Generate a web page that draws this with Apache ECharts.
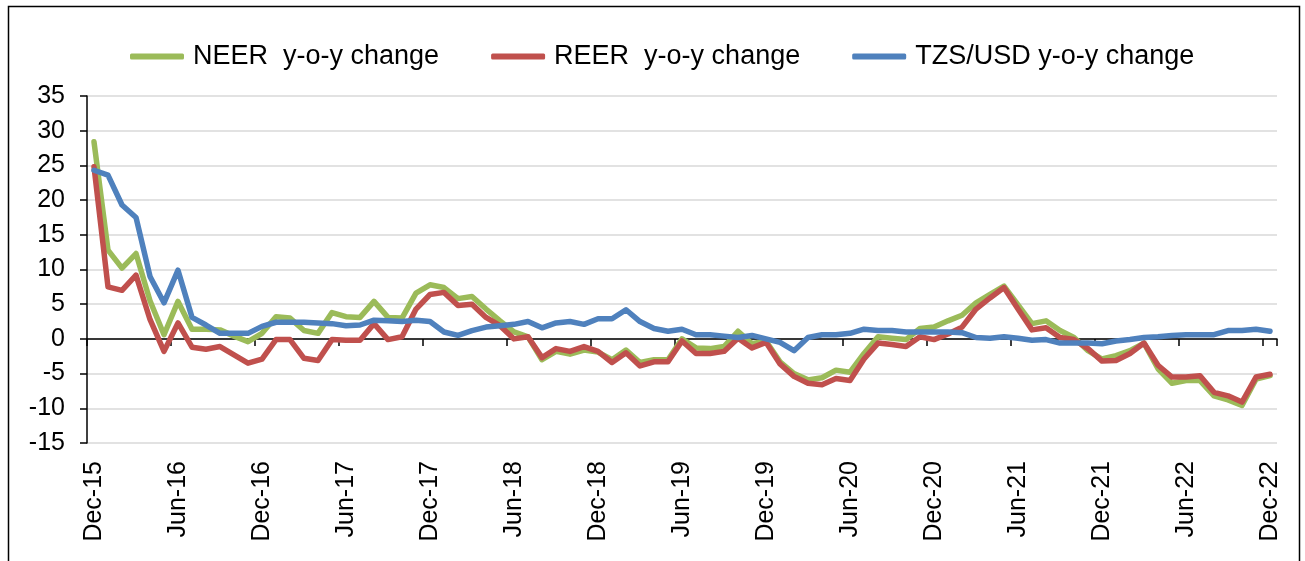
<!DOCTYPE html>
<html>
<head>
<meta charset="utf-8">
<script src="https://cdn.jsdelivr.net/npm/echarts@6/dist/echarts.min.js"></script>
<style>
  html, body { margin: 0; padding: 0; background: #fff; }
  #chart { width: 1305px; height: 561px; }
</style>
</head>
<body>
<div id="chart"></div>
<script>
// 月份标签 Dec-15 ... Dec-22
const monthNames = ["Jan", "Feb", "Mar", "Apr", "May", "Jun", "Jul", "Aug", "Sep", "Oct", "Nov", "Dec"];
const months = ["Dec-15"];
for (let y = 16; y <= 22; y++) {
  monthNames.forEach((m) => months.push(m + "-" + y));
}

const yTicks = { min: -15, max: 35, step: 5 };

const neer = [
  28.4, 12.8, 10.2, 12.3, 5.5, 0.6, 5.4, 1.4, 1.4, 1.3, 0.4, -0.4,
  0.8, 3.2, 3.0, 1.2, 0.8, 3.8, 3.2, 3.1, 5.4, 3.1, 3.0, 6.6,
  7.8, 7.4, 5.8, 6.1, 4.3, 2.6, 1.0, 0.3, -3.0, -1.8, -2.2, -1.6,
  -1.9, -3.0, -1.6, -3.4, -3.0, -3.0, 0.0, -1.3, -1.4, -1.1, 1.1, -0.7,
  -0.3, -3.3, -5.0, -5.9, -5.6, -4.5, -4.8, -2.1, 0.3, 0.1, -0.1, 1.5,
  1.7, 2.6, 3.4, 5.2, 6.4, 7.6, 4.9, 2.2, 2.6, 1.2, 0.2, -1.7,
  -2.9, -2.4, -1.7, -0.6, -4.3, -6.4, -6.0, -6.0, -8.2, -8.8, -9.6, -5.8,
  -5.3,
];
const reer = [
  24.8, 7.5, 7.0, 9.2, 2.8, -1.8, 2.3, -1.2, -1.5, -1.1, -2.3, -3.5,
  -2.9, -0.1, -0.1, -2.8, -3.1, -0.1, -0.2, -0.2, 2.2, -0.1, 0.3, 4.3,
  6.4, 6.7, 4.8, 5.0, 3.1, 1.9, 0.0, 0.3, -2.7, -1.4, -1.8, -1.1,
  -1.8, -3.4, -2.0, -3.9, -3.3, -3.3, -0.3, -2.1, -2.1, -1.8, 0.1, -1.3,
  -0.5, -3.6, -5.4, -6.4, -6.6, -5.7, -6.0, -2.9, -0.6, -0.8, -1.1, 0.3,
  -0.1, 0.7, 1.7, 4.3, 5.9, 7.4, 4.3, 1.3, 1.6, 0.2, -0.1, -1.4,
  -3.2, -3.1, -2.1, -0.6, -3.8, -5.5, -5.5, -5.3, -7.7, -8.2, -9.1, -5.5,
  -5.1,
];
const tzsUsd = [
  24.3, 23.6, 19.3, 17.5, 9.0, 5.2, 9.9, 3.1, 2.0, 0.8, 0.8, 0.8,
  1.8, 2.4, 2.4, 2.4, 2.3, 2.2, 1.9, 2.0, 2.7, 2.6, 2.5, 2.7,
  2.5, 1.0, 0.5, 1.2, 1.7, 1.9, 2.1, 2.5, 1.6, 2.3, 2.5, 2.1,
  2.9, 2.9, 4.2, 2.5, 1.5, 1.1, 1.4, 0.6, 0.6, 0.4, 0.2, 0.5,
  0.0, -0.5, -1.7, 0.2, 0.6, 0.6, 0.8, 1.4, 1.2, 1.2, 1.0, 1.0,
  1.0, 1.0, 0.9, 0.2, 0.1, 0.3, 0.1, -0.2, -0.1, -0.6, -0.6, -0.6,
  -0.7, -0.3, -0.1, 0.2, 0.3, 0.5, 0.6, 0.6, 0.6, 1.2, 1.2, 1.4,
  1.1,
];

const seriesNames = ["NEER  y-o-y change", "REER  y-o-y change", "TZS/USD y-o-y change"];
const seriesColors = ["#9bbb59", "#c0504d", "#4f81bd"];
const seriesData = [neer, reer, tzsUsd];

const font = "Liberation Sans, Arial, sans-serif";

const myChart = echarts.init(document.querySelector("#chart"));
const option = {
  animation: false,
  color: seriesColors,
  // 外框
  graphic: [
    {
      type: "rect",
      shape: { x: 8.5, y: 6.5, width: 1291, height: 600 },
      style: { fill: "none", stroke: "#000", lineWidth: 1.5 },
      silent: true,
    },
  ],
  legend: {
    top: 38,
    left: 125,
    icon: "roundRect",
    itemWidth: 54,
    itemHeight: 6,
    itemGap: 52,
    textStyle: { fontSize: 27, color: "#000", fontFamily: font, padding: [0, 0, 0, 4] },
    data: seriesNames,
  },
  grid: {
    left: 87,
    right: 28,
    top: 96,
    bottom: 118,
  },
  xAxis: [
    {
      type: "category",
      data: months,
      boundaryGap: true,
      position: "bottom",
      axisLine: { show: false, onZero: false },
      axisTick: { show: false },
      axisLabel: {
        interval: 5,
        rotate: 90,
        margin: 18,
        fontSize: 25,
        color: "#000",
        fontFamily: font,
      },
    },
    {
      type: "category",
      data: months,
      boundaryGap: true,
      position: "bottom",
      axisLine: { show: true, onZero: true, lineStyle: { color: "#000", width: 1.5 } },
      axisTick: { show: true, interval: 5, length: 7, lineStyle: { color: "#000", width: 1.5 } },
      axisLabel: { show: false },
    },
  ],
  yAxis: {
    type: "value",
    min: yTicks.min,
    max: yTicks.max,
    interval: yTicks.step,
    axisLine: { show: true, lineStyle: { color: "#000", width: 1.5 } },
    axisTick: { show: true, length: 7, lineStyle: { color: "#000", width: 1.5 } },
    axisLabel: { margin: 22, fontSize: 25, color: "#000", fontFamily: font },
    splitLine: { lineStyle: { color: "#d9d9d9", width: 1.5 } },
  },
  series: seriesNames.map((name, i) => ({
    name: name,
    type: "line",
    xAxisIndex: 0,
    data: seriesData[i],
    symbol: "none",
    lineStyle: { width: 5.5, color: seriesColors[i], join: "round", cap: "round" },
    itemStyle: { color: seriesColors[i] },
  })),
};
myChart.setOption(option);
</script>
</body>
</html>
